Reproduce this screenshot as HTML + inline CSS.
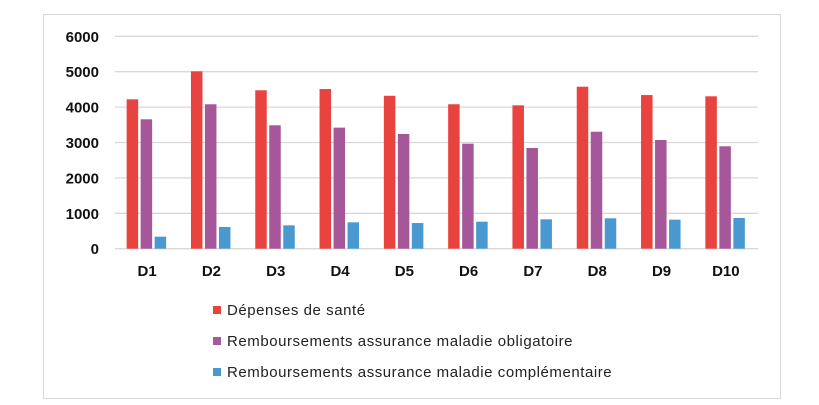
<!DOCTYPE html>
<html><head><meta charset="utf-8"><style>
body{margin:0;background:#fff;font-family:"Liberation Sans","DejaVu Sans",sans-serif}
svg{display:block}
</style></head><body>
<svg width="819" height="405">
<rect x="43.5" y="14.5" width="737" height="384" fill="#fff" stroke="#d9d9d9"/>
<g id="grid"></g><g id="bars"></g><g id="labels"></g><g id="legend"></g>
</svg>
<script>
const categories=["D1","D2","D3","D4","D5","D6","D7","D8","D9","D10"];
const depenses=[4220,5010,4475,4510,4320,4080,4050,4576,4340,4305];
const amo=[3655,4080,3486,3420,3240,2966,2845,3305,3070,2893];
const amc=[340,613,660,745,725,763,830,858,820,867];
const ticks=[0,1000,2000,3000,4000,5000,6000];
const seriesNames=["Dépenses de santé","Remboursements assurance maladie obligatoire","Remboursements assurance maladie complémentaire"];
const colors=["#e8433e","#a5579a","#4a98d0"];
const NS="http://www.w3.org/2000/svg";
const x0=115,x1=758,y0=248.7,yTop=36.3,maxV=6000;
const y=v=>y0-(v/maxV)*(y0-yTop);
const cw=(x1-x0)/categories.length;
const cx=i=>x0+cw*(i+0.5);
function mk(tag,attrs,parent){const e=document.createElementNS(NS,tag);for(const k in attrs)e.setAttribute(k,attrs[k]);document.getElementById(parent).appendChild(e);return e;}
ticks.forEach(t=>{
  const l=mk('line',{x1:x0,x2:x1,y1:y(t),y2:y(t),stroke:'#d9d9d9','stroke-width':1.3},'grid');
  
  
  const tx=mk('text',{x:99,y:y(t)+5.5,'text-anchor':'end','font-size':15,'font-weight':'bold',fill:'#111'},'labels');
  tx.textContent=t;
  
  
});
const series=[depenses,amo,amc];
categories.forEach((c,i)=>{
  series.forEach((s,j)=>{
    const bx=cx(i)-20.5+j*14;
    const r=mk('rect',{x:bx,y:y(s[i]),width:11.5,height:y0-y(s[i]),fill:colors[j]},'bars');
    
    
  });
  const t=mk('text',{x:cx(i),y:276,'text-anchor':'middle','font-size':15,'font-weight':'bold',fill:'#111'},'labels');
  t.textContent=c;
  
  
});
seriesNames.forEach((n,j)=>{
  const yy=310+j*31;
  const r=mk('rect',{x:213,y:yy-4,width:8,height:8,fill:colors[j]},'legend');
  
  
  const t=mk('text',{x:227,y:yy+5,'font-size':15,'letter-spacing':0.55,fill:'#222'},'legend');
  t.textContent=n;
  
  
});
</script>
</body></html>
